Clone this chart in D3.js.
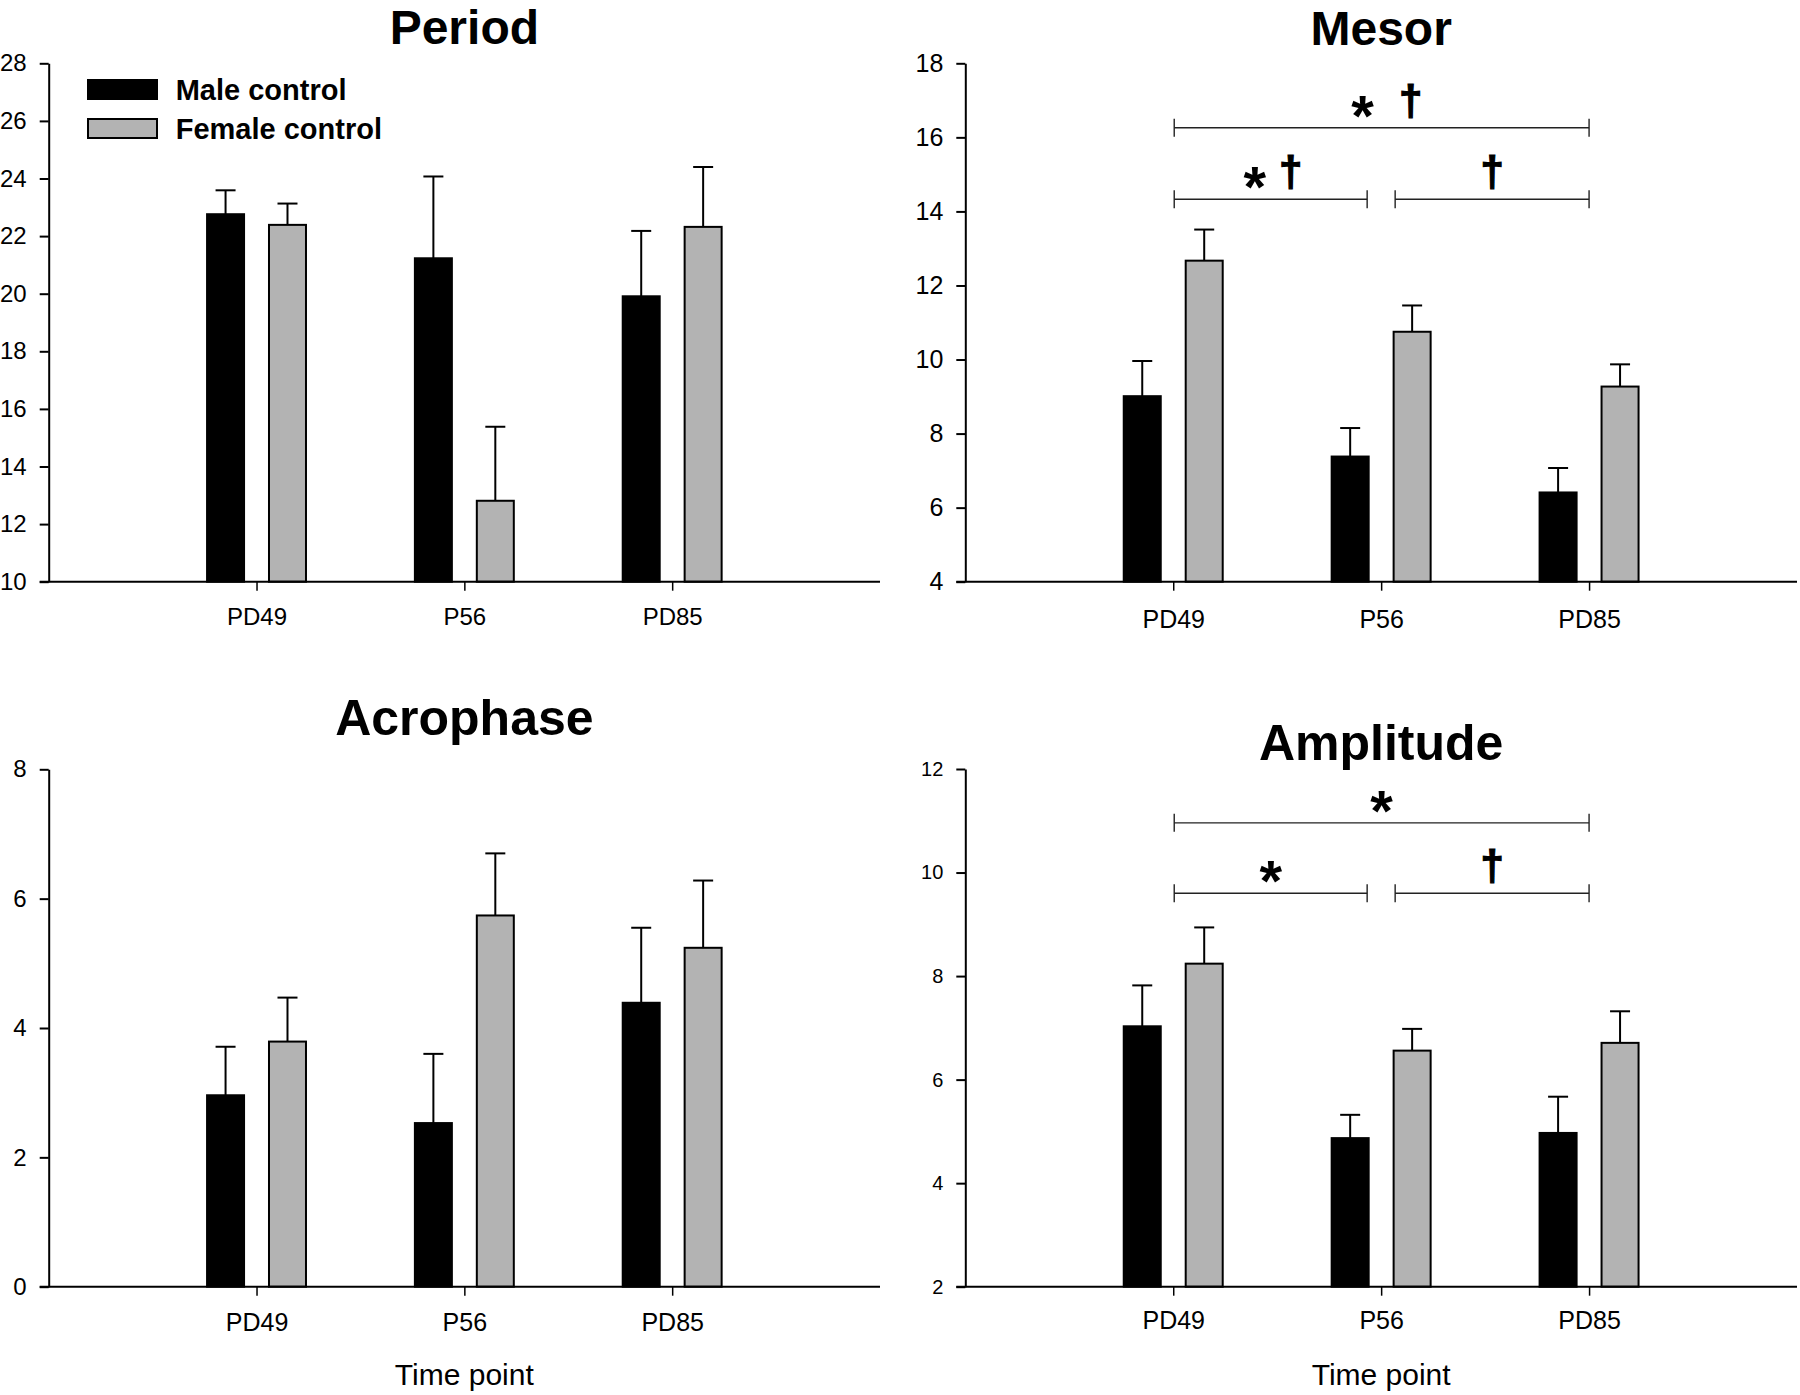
<!DOCTYPE html>
<html>
<head>
<meta charset="utf-8">
<script src="https://cdn.jsdelivr.net/npm/d3@7"></script>
<style>
body { margin: 0; background: #fff; }
svg { display: block; font-family: 'Liberation Sans', Arial, sans-serif; }
</style>
</head>
<body>
<div id="chart"></div>
<script>
// categories and series
var categories = ['PD49', 'P56', 'PD85'];
var seriesNames = ['Male control', 'Female control'];

// period (mean and SEM)
var periodMale = [22.76, 21.23, 19.91];
var periodMaleSem = [0.83, 2.84, 2.27];
var periodFemale = [22.39, 12.81, 22.32];
var periodFemaleSem = [0.74, 2.57, 2.08];
var periodTicks = [10, 12, 14, 16, 18, 20, 22, 24, 26, 28];

// mesor
var mesorMale = [9.01, 7.38, 6.41];
var mesorMaleSem = [0.95, 0.77, 0.66];
var mesorFemale = [12.67, 10.75, 9.27];
var mesorFemaleSem = [0.84, 0.71, 0.60];
var mesorTicks = [4, 6, 8, 10, 12, 14, 16, 18];

// acrophase
var acroMale = [2.96, 2.53, 4.39];
var acroMaleSem = [0.75, 1.07, 1.16];
var acroFemale = [3.79, 5.74, 5.24];
var acroFemaleSem = [0.68, 0.96, 1.04];
var acroTicks = [0, 2, 4, 6, 8];

// amplitude
var ampMale = [7.03, 4.87, 4.97];
var ampMaleSem = [0.79, 0.45, 0.70];
var ampFemale = [8.24, 6.56, 6.71];
var ampFemaleSem = [0.70, 0.42, 0.61];
var ampTicks = [2, 4, 6, 8, 10, 12];

// significance brackets: from / to category index, level, marks
var mesorSig = [
    {from: 0, to: 2, level: 16.26, marks: ['*', '\u2020']},
    {from: 0, to: 1, level: 14.33, marks: ['*', '\u2020']},
    {from: 1, to: 2, level: 14.33, marks: ['\u2020']}
];
var ampSig = [
    {from: 0, to: 2, level: 10.96, marks: ['*']},
    {from: 0, to: 1, level: 9.6, marks: ['*']},
    {from: 1, to: 2, level: 9.6, marks: ['\u2020']}
];

// panel layout
var panels = [
    {title: 'Period', male: periodMale, maleSem: periodMaleSem, female: periodFemale, femaleSem: periodFemaleSem,
     domain: [10, 28], ticks: periodTicks, sig: [],
     left: 48.7, right: 880, top: 63.3, bottom: 581.7, titleY: 44, titleFont: 48,
     tickFont: 24, catFont: 24, catY: 43.6, legend: true, xlabel: false},
    {title: 'Mesor', male: mesorMale, maleSem: mesorMaleSem, female: mesorFemale, femaleSem: mesorFemaleSem,
     domain: [4, 18], ticks: mesorTicks, sig: mesorSig,
     left: 965.3, right: 1797, top: 63.3, bottom: 581.7, titleY: 45, titleFont: 48,
     tickFont: 25, catFont: 25, catY: 46.6, legend: false, xlabel: false},
    {title: 'Acrophase', male: acroMale, maleSem: acroMaleSem, female: acroFemale, femaleSem: acroFemaleSem,
     domain: [0, 8], ticks: acroTicks, sig: [],
     left: 48.7, right: 880, top: 769.3, bottom: 1286.7, titleY: 734.5, titleFont: 50,
     tickFont: 24, catFont: 25, catY: 44.3, legend: false, xlabel: true},
    {title: 'Amplitude', male: ampMale, maleSem: ampMaleSem, female: ampFemale, femaleSem: ampFemaleSem,
     domain: [2, 12], ticks: ampTicks, sig: ampSig,
     left: 965.3, right: 1797, top: 769, bottom: 1286.7, titleY: 760, titleFont: 50,
     tickFont: 20, catFont: 25, catY: 42.3, legend: false, xlabel: true}
];

var width = 1800, height = 1395;
var barW = 0.178;     // bar width in category units
var barOff = 0.149;   // bar centre offset from category
var fills = ['#000000', '#b3b3b3'];

var svg = d3.select('#chart').append('svg')
    .attr('width', width).attr('height', height);

panels.forEach(function(p) {
    var g = svg.append('g');
    var x = d3.scaleLinear().domain([0, 4]).range([p.left, p.right]);
    var y = d3.scaleLinear().domain(p.domain).range([p.bottom, p.top]);
    var unit = x(1) - x(0);

    // title
    g.append('text')
        .attr('x', (p.left + p.right) / 2).attr('y', p.titleY)
        .attr('text-anchor', 'middle')
        .attr('font-size', p.titleFont).attr('font-weight', 'bold')
        .text(p.title);

    // bars for both groups
    var groups = [
        {vals: p.male, sem: p.maleSem, off: -barOff, fill: fills[0]},
        {vals: p.female, sem: p.femaleSem, off: barOff, fill: fills[1]}
    ];
    groups.forEach(function(s) {
        var bg = g.append('g');
        bg.selectAll('line.err').data(s.vals).enter().append('line')
            .attr('x1', function(d, i) { return x(i + 1 + s.off); })
            .attr('x2', function(d, i) { return x(i + 1 + s.off); })
            .attr('y1', function(d) { return y(d); })
            .attr('y2', function(d, i) { return y(d + s.sem[i]); })
            .attr('stroke', '#000').attr('stroke-width', 2);
        bg.selectAll('line.cap').data(s.vals).enter().append('line')
            .attr('x1', function(d, i) { return x(i + 1 + s.off) - 10; })
            .attr('x2', function(d, i) { return x(i + 1 + s.off) + 10; })
            .attr('y1', function(d, i) { return y(d + s.sem[i]); })
            .attr('y2', function(d, i) { return y(d + s.sem[i]); })
            .attr('stroke', '#000').attr('stroke-width', 2);
        bg.selectAll('rect').data(s.vals).enter().append('rect')
            .attr('x', function(d, i) { return x(i + 1 + s.off - barW / 2); })
            .attr('width', barW * unit)
            .attr('y', function(d) { return y(d); })
            .attr('height', function(d) { return y(p.domain[0]) - y(d); })
            .attr('fill', s.fill)
            .attr('stroke', '#000').attr('stroke-width', 2);
    });

    // y axis
    var yAxis = g.append('g')
        .attr('transform', 'translate(' + p.left + ',0)')
        .call(d3.axisLeft(y).tickValues(p.ticks).tickSize(9).tickSizeOuter(0).tickPadding(13));
    yAxis.select('.domain').attr('stroke-width', 2);
    yAxis.selectAll('.tick line').attr('stroke-width', 2);
    yAxis.selectAll('text').attr('font-size', p.tickFont).attr('fill', '#000')
        .attr('font-family', "'Liberation Sans', Arial, sans-serif");

    // x axis line
    g.append('line')
        .attr('x1', p.left - 9).attr('x2', p.right)
        .attr('y1', p.bottom).attr('y2', p.bottom)
        .attr('stroke', '#000').attr('stroke-width', 2);

    var xAxis = g.append('g')
        .attr('transform', 'translate(0,' + p.bottom + ')')
        .call(d3.axisBottom(x).tickValues([1, 2, 3])
            .tickFormat(function(d) { return categories[d - 1]; })
            .tickSize(9).tickPadding(p.catY - 9 - 0.71 * p.catFont));
    xAxis.select('.domain').remove();
    xAxis.selectAll('.tick line').attr('stroke-width', 1.5);
    xAxis.selectAll('text').attr('font-size', p.catFont).attr('fill', '#000')
        .attr('font-family', "'Liberation Sans', Arial, sans-serif");

    if (p.xlabel) {
        g.append('text')
            .attr('x', (p.left + p.right) / 2).attr('y', 1385)
            .attr('text-anchor', 'middle').attr('font-size', 30)
            .text('Time point');
    }

    // significance brackets
    p.sig.forEach(function(s) {
        var x1 = x(s.from + 1) + (s.from === 1 ? 14 : 1);
        var x2 = x(s.to + 1) - (s.to === 1 ? 14 : 0);
        var yy = y(s.level);
        var bk = g.append('g').attr('stroke', '#222').attr('stroke-width', 1.4);
        bk.append('line').attr('x1', x1).attr('x2', x2).attr('y1', yy).attr('y2', yy);
        bk.append('line').attr('x1', x1).attr('x2', x1).attr('y1', yy - 9).attr('y2', yy + 9);
        bk.append('line').attr('x1', x2).attr('x2', x2).attr('y1', yy - 9).attr('y2', yy + 9);

        var cx = (x1 + x2) / 2;
        var wide = (s.to - s.from) > 1;
        var offs = s.marks.length === 1 ? [0] : (wide ? [-19, 29] : [-16, 20]);
        s.marks.forEach(function(m, i) {
            var star = m === '*';
            g.append('text')
                .attr('x', cx + offs[i])
                .attr('y', star ? yy + 8 : yy - 13)
                .attr('text-anchor', 'middle')
                .attr('font-weight', 'bold')
                .attr('font-size', star ? 58 : 42)
                .attr('stroke', star ? 'none' : '#000')
                .attr('stroke-width', star ? 0 : 1.2)
                .text(m);
        });
    });

    // legend
    if (p.legend) {
        var lg = g.append('g');
        seriesNames.forEach(function(name, i) {
            lg.append('rect')
                .attr('x', 88).attr('y', 80 + i * 39)
                .attr('width', 69).attr('height', 19)
                .attr('fill', fills[i]).attr('stroke', '#000').attr('stroke-width', 2);
            lg.append('text')
                .attr('x', 175.7).attr('y', 100 + i * 39)
                .attr('font-size', 29).attr('font-weight', 'bold')
                .text(name);
        });
    }
});
</script>
</body>
</html>
